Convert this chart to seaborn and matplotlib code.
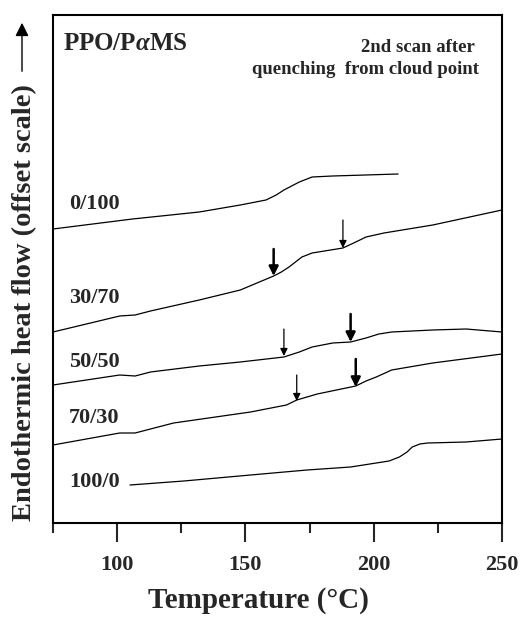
import pandas as pd
import matplotlib
matplotlib.use('Agg')
import matplotlib.pyplot as plt
import seaborn as sns

# DSC traces (temperature in C, heat flow in offset units)
t_0_100 = [75, 106, 132, 148, 158, 162, 165, 168, 171, 174, 176, 184, 209.5]
y_0_100 = [294, 304, 311, 318, 323, 328, 333, 337, 341, 344, 346, 347, 349]

t_30_70 = [75, 101, 107, 113, 132, 148, 161, 164, 167, 170, 172, 176, 188, 193, 197, 204, 223, 250]
y_30_70 = [191, 207, 208, 212, 223, 233, 247, 251, 256, 262, 266, 270, 275, 281, 286, 290, 298, 313]

t_50_50 = [75, 101, 107, 113, 132, 148, 165, 171, 176, 184, 191, 197, 202, 207, 223, 236, 250]
y_50_50 = [138, 148, 147, 151, 157, 161, 166, 171, 176, 180, 181, 185, 189, 191, 193, 194, 191]

t_70_30 = [75, 101, 107, 122, 152, 166, 170, 178, 193, 197, 201, 207, 223, 250]
y_70_30 = [78, 90, 90, 100, 111, 118, 123, 129, 137, 142, 146, 153, 160, 169]

t_100_0 = [105, 126, 152, 174, 191, 201, 206, 210, 213, 215, 218, 221, 236, 250]
y_100_0 = [38, 42, 48, 53, 56, 60, 62, 66, 71, 76, 79, 80, 81, 84]

blends = ['0/100', '30/70', '50/50', '70/30', '100/0']
label_y = [319, 225, 161, 105, 41]

# Tg arrows: (temperature, tail, tip, bold)
arrows = [(161, 274, 247, True), (188, 303, 275, False),
          (165, 194, 167, False), (191, 209, 181, True),
          (170, 148, 122, False), (193, 164, 136, True)]

curves = [(t_0_100, y_0_100), (t_30_70, y_30_70), (t_50_50, y_50_50),
          (t_70_30, y_70_30), (t_100_0, y_100_0)]
df = pd.concat([pd.DataFrame({'T': t, 'y': y, 'blend': b})
                for b, (t, y) in zip(blends, curves)], ignore_index=True)

sns.set_style('ticks')
plt.rcParams['font.family'] = ['Liberation Serif', 'DejaVu Serif']
plt.rcParams['font.weight'] = 'bold'
plt.rcParams['mathtext.fontset'] = 'custom'
plt.rcParams['mathtext.rm'] = 'Liberation Serif:bold'
plt.rcParams['mathtext.it'] = 'Liberation Serif:italic'

fig = plt.figure(figsize=(5.31, 6.23), dpi=100)
ax = fig.add_axes([53 / 531, 1 - 523 / 623, 449 / 531, 508 / 623])

sns.lineplot(data=df, x='T', y='y', units='blend', estimator=None, sort=False,
             color='black', lw=0.9, legend=False, ax=ax)

for b, ly in zip(blends, label_y):
    ax.text(81.2, ly, b, fontsize=16, fontweight='bold', ha='left', va='center')

for t, tail, tip, bold in arrows:
    ax.annotate('', xy=(t, tip), xytext=(t, tail),
                arrowprops=dict(arrowstyle='-|>', color='black',
                                lw=1.8 if bold else 0.9,
                                mutation_scale=14 if bold else 11,
                                shrinkA=0, shrinkB=0))

ax.text(78.9, 480, 'PPO/P$\\alpha$MS', fontsize=18, fontweight='bold',
        ha='left', va='center')
ax.text(239.5, 476, '2nd scan after', fontsize=13.5, fontweight='bold',
        ha='right', va='center')
ax.text(241, 454, 'quenching  from cloud point', fontsize=13.5,
        fontweight='bold', ha='right', va='center')

ax.set_xlim(75, 250)
ax.set_ylim(0, 508)
ax.set_xticks([100, 150, 200, 250])
ax.set_xticks([75, 125, 175, 225], minor=True)
ax.set_yticks([])
ax.tick_params(axis='x', which='major', direction='out', length=14, width=1.5,
               pad=9, labelsize=16)
ax.tick_params(axis='x', which='minor', direction='out', length=7, width=1.5)
for s in ax.spines.values():
    s.set_linewidth(1.5)
    s.set_color('black')

ax.set_xlabel('Temperature (°C)', fontsize=21, fontweight='bold')
ax.xaxis.set_label_coords(0.457, -0.125)
ax.set_ylabel('Endothermic heat flow (offset scale)', fontsize=20.5,
              fontweight='bold')
ax.yaxis.set_label_coords(-0.035, 0.434)

fig.add_artist(matplotlib.patches.FancyArrowPatch(
    (22 / 531, 1 - 74 / 623), (22 / 531, 1 - 20 / 623),
    transform=fig.transFigure, arrowstyle='-|>', mutation_scale=20,
    color='black', lw=1.0))

fig.savefig('out.png', dpi=100)
